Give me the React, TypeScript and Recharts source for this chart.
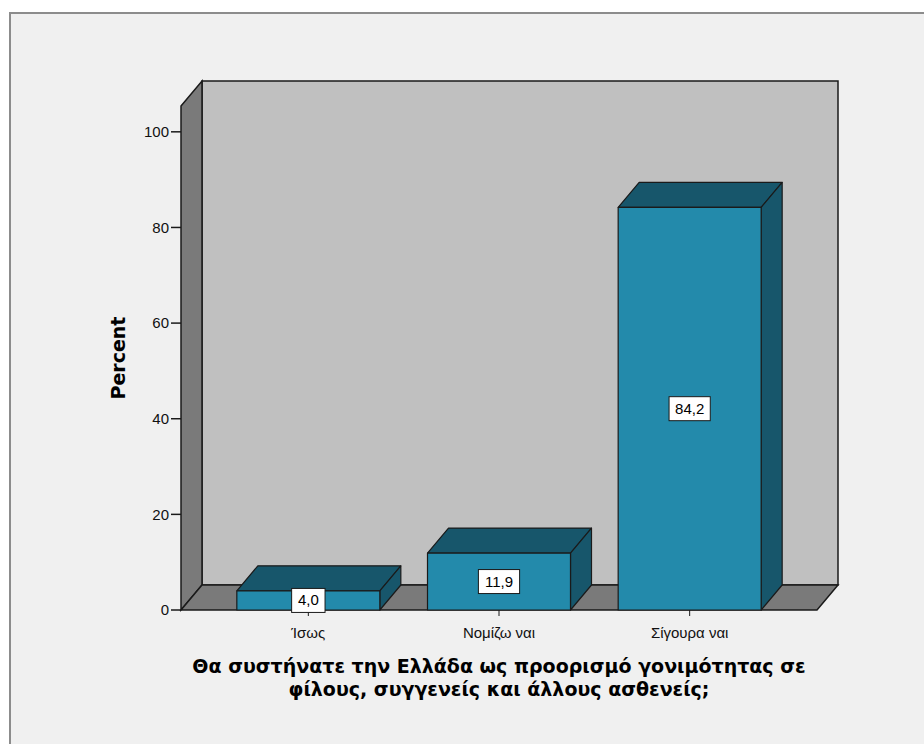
import React from "react";
import { BarChart, Bar, XAxis, YAxis, ReferenceArea, LabelList } from "recharts";

// survey answers and their share of respondents (%)
const answers = ["Ίσως", "Νομίζω ναι", "Σίγουρα ναι"];
const percents = [4.0, 11.9, 84.2];
const yTicks = [0, 20, 40, 60, 80, 100];
const xTitle = [
  "Θα συστήνατε την Ελλάδα ως προορισμό γονιμότητας σε",
  "φίλους, συγγενείς και άλλους ασθενείς;",
];

const data = answers.map((a, i) => ({ answer: a, percent: percents[i] }));

// depth of the fake 3D extrusion
const DX = 21;
const DY = 25;
// gap between the box sides and the outer categories
const PAD = 32;
const FONT = "'Liberation Sans', Arial, sans-serif";
const TITLE_FONT = "'DejaVu Sans', Verdana, sans-serif";
const EDGE = "#1a1a1a";

function pts(p: number[][]) {
  return p.map(q => q.join(",")).join(" ");
}

// back wall, left wall and floor of the plot box
function Walls(props: any) {
  const x = props.x - PAD;
  const width = props.width + 2 * PAD;
  const { y, height } = props;
  const b = y + height;
  const r = x + width;
  return (
    <g stroke={EDGE} strokeWidth={1.5}>
      <rect x={x + DX} y={y - DY} width={width} height={height} fill="#c0c0c0" />
      <polygon points={pts([[x, y], [x + DX, y - DY], [x + DX, b - DY], [x, b]])} fill="#7a7a7a" />
      <polygon points={pts([[x, b], [x + DX, b - DY], [r + DX, b - DY], [r, b]])} fill="#7a7a7a" />
    </g>
  );
}

function Box3D(props: any) {
  const { x, y, width, height } = props;
  if (height <= 0) return null;
  const r = x + width;
  const b = y + height;
  return (
    <g stroke={EDGE} strokeWidth={1.2} strokeLinejoin="round">
      <polygon points={pts([[x, y], [x + DX, y - DY], [r + DX, y - DY], [r, y]])} fill="#17566b" />
      <polygon points={pts([[r, y], [r + DX, y - DY], [r + DX, b - DY], [r, b]])} fill="#17566b" />
      <rect x={x} y={y} width={width} height={height} fill="#238aab" />
    </g>
  );
}

function ValueBox(props: any) {
  const { x, y, width, height, value } = props;
  const txt = Number(value).toFixed(1).replace(".", ",");
  const w = txt.length * 7.8 + 10;
  const cx = x + width / 2;
  const cy = y + height / 2;
  return (
    <g>
      <rect x={cx - w / 2} y={cy - 12} width={w} height={24} fill="#ffffff" stroke={EDGE} strokeWidth={1} />
      <text x={cx} y={cy + 5} textAnchor="middle" fontFamily={FONT} fontSize={15} fill="#000">
        {txt}
      </text>
    </g>
  );
}

function XTitle(props: any) {
  const vb = props.viewBox || {};
  const cx = vb.x + vb.width / 2;
  return (
    <text x={cx} y={673} textAnchor="middle" fontFamily={TITLE_FONT} fontSize={19} fontWeight="bold" fill="#000">
      {xTitle.map((line, i) => (
        <tspan key={i} x={cx} dy={i === 0 ? 0 : 23}>{line}</tspan>
      ))}
    </text>
  );
}

function YTitle(props: any) {
  const vb = props.viewBox || {};
  const x = 125;
  const y = vb.y + vb.height / 2;
  return (
    <text x={x} y={y} transform={`rotate(-90 ${x} ${y})`} textAnchor="middle" fontFamily={TITLE_FONT} fontSize={19} fontWeight="bold" fill="#000">
      Percent
    </text>
  );
}

export default function App() {
  return (
    <div style={{ position: "absolute", left: 0, top: 0, width: 924, height: 744, background: "#fff", overflow: "hidden" }}>
      <div style={{ position: "absolute", left: 9, top: 12, width: 930, height: 740, background: "#f0f0f0", border: "2px solid #8c8c8c", boxSizing: "border-box" }} />
      <div style={{ position: "absolute", left: 0, top: 0 }}>
        <BarChart width={924} height={744} data={data} margin={{ top: 106, right: 107, left: 111, bottom: 104 }} barCategoryGap="12.5%">
          <XAxis dataKey="answer" height={30} axisLine={false} tickSize={6} tickMargin={11} tickLine={{ stroke: EDGE }}
            padding={{ left: PAD, right: PAD }} tick={{ fill: "#111", fontSize: 15, fontFamily: FONT }} label={{ content: <XTitle /> }} />
          <YAxis width={70} domain={[0, 105.4]} ticks={yTicks} axisLine={false} tickSize={10} tickMargin={2}
            tickLine={{ stroke: EDGE, strokeWidth: 1.5 }} tick={{ fill: "#111", fontSize: 15, fontFamily: FONT }}
            label={{ content: <YTitle /> }} />
          <ReferenceArea y1={0} y2={105.4} shape={<Walls />} ifOverflow="visible" />
          <Bar dataKey="percent" shape={<Box3D />} isAnimationActive={false}>
            <LabelList dataKey="percent" content={<ValueBox />} />
          </Bar>
        </BarChart>
      </div>
    </div>
  );
}
